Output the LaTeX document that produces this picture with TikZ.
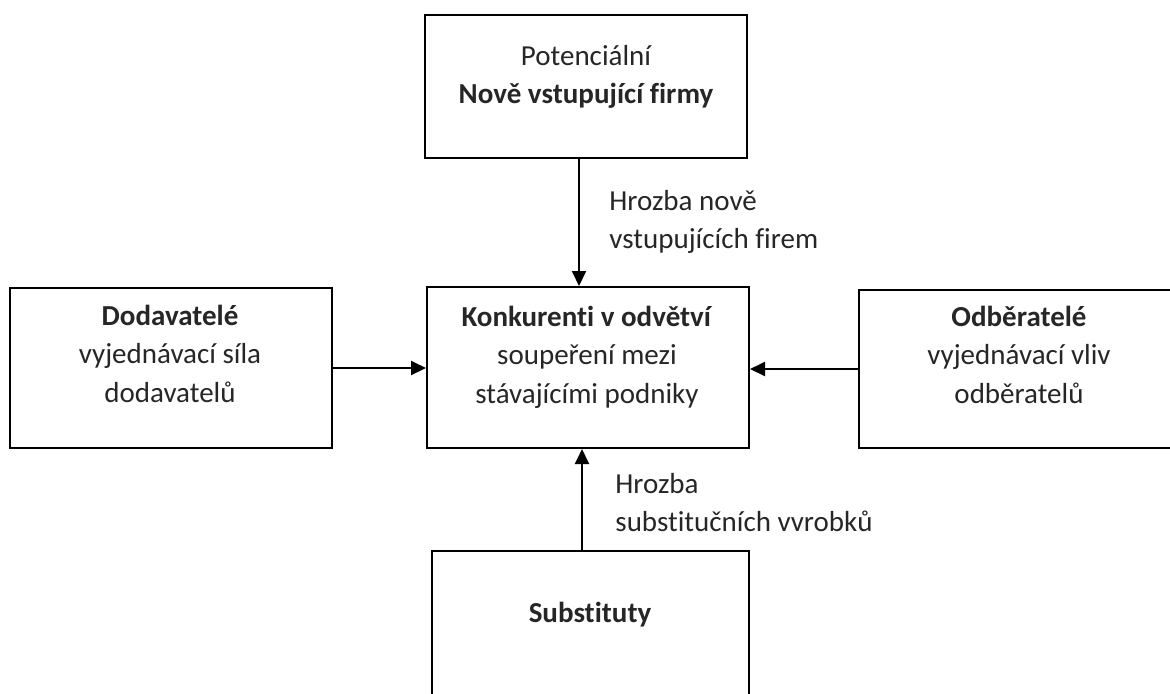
\documentclass[tikz,border=0pt]{standalone}
\usepackage{fontspec}
\setmainfont{Carlito}[Ligatures=NoCommon]
\usetikzlibrary{arrows.meta}
\begin{document}
\begin{tikzpicture}[x=0.5pt,y=-0.5pt,
  box/.style={draw=black,line width=1pt,minimum width=161pt,inner sep=0pt},
  txt/.style={font=\fontsize{14.5}{19.25}\selectfont,align=center,inner sep=0pt,text=black!85},
  lbl/.style={font=\fontsize{14.5}{19.25}\selectfont,align=left,inner sep=0pt,text=black!85},
  arr/.style={line width=1pt,-{Triangle[length=7.5pt,width=7pt]}}]
\useasboundingbox (0,0) rectangle (1170,693);
\begin{scope}
\clip (0,0) rectangle (1170,693);
% boxes
\node[box,minimum height=71.5pt] (top) at (586,86.5) {};
\node[box,minimum height=80.5pt] (mid) at (588,367.5) {};
\node[box,minimum height=80pt] (left) at (171,368) {};
\node[box,minimum height=79pt] (right) at (1020,369) {};
\node[box,minimum width=158.5pt,minimum height=80.5pt] (bot) at (590.5,631.5) {};
\end{scope}
% texts (base anchor = baseline of last line)
\node[txt,anchor=base] (ttop) at (586,103.5) {Potenciální\\\textbf{Nově vstupující firmy}};
\node[txt,anchor=base] (tmid) at (587,403) {\textbf{Konkurenti v odvětví}\\soupeření mezi\\stávajícími podniky};
\node[txt,anchor=base] (tleft) at (170,402) {\textbf{Dodavatelé}\\vyjednávací síla\\dodavatelů};
\node[txt,anchor=base] (tright) at (1019,403) {\textbf{Odběratelé}\\vyjednávací vliv\\odběratelů};
\node[txt,anchor=base] (tbot) at (590,622) {\textbf{Substituty}};
\node[lbl,anchor=base west] (lnew) at (609,248.5) {Hrozba nově\\vstupujících firem};
\node[lbl,anchor=base west] (lsub) at (615,531.5) {Hrozba\\substitučních vvrobků};
% connectors
\draw[arr] ([xshift=-3.5pt]top.south) -- ([xshift=-3.5pt]top.south |- mid.north);
\draw[arr] ([xshift=-4.25pt]bot.north) -- ([xshift=-4.25pt]bot.north |- mid.south);
\draw[arr] (left.east) -- (left.east -| mid.west);
\draw[arr] (right.west) -- (right.west -| mid.east);
\end{tikzpicture}
\end{document}
